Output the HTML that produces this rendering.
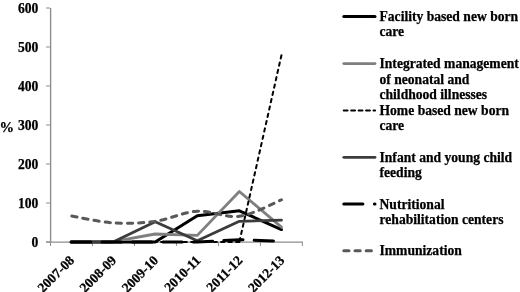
<!DOCTYPE html>
<html><head><meta charset="utf-8"><style>
html,body{margin:0;padding:0;background:#fff;}
svg{display:block;will-change:transform;}
text{font-family:"Liberation Serif",serif;font-weight:bold;font-size:13.6px;fill:#000;stroke:#000;stroke-width:0.25px;}
</style></head><body>
<svg width="520" height="292" viewBox="0 0 520 292">
<rect width="520" height="292" fill="#fff"/>
<line x1="50.6" y1="8" x2="50.6" y2="242.0" stroke="#8e8e8e" stroke-width="1.4"/>
<line x1="46" y1="242.0" x2="302.9" y2="242.0" stroke="#8e8e8e" stroke-width="1.25"/>
<line x1="46" y1="242.00" x2="50.0" y2="242.00" stroke="#8e8e8e" stroke-width="1"/>
<line x1="46" y1="203.00" x2="50.0" y2="203.00" stroke="#8e8e8e" stroke-width="1"/>
<line x1="46" y1="164.00" x2="50.0" y2="164.00" stroke="#8e8e8e" stroke-width="1"/>
<line x1="46" y1="125.00" x2="50.0" y2="125.00" stroke="#8e8e8e" stroke-width="1"/>
<line x1="46" y1="86.00" x2="50.0" y2="86.00" stroke="#8e8e8e" stroke-width="1"/>
<line x1="46" y1="47.00" x2="50.0" y2="47.00" stroke="#8e8e8e" stroke-width="1"/>
<line x1="46" y1="8.00" x2="50.0" y2="8.00" stroke="#8e8e8e" stroke-width="1"/>
<line x1="50.50" y1="242.0" x2="50.50" y2="246" stroke="#8e8e8e" stroke-width="1"/>
<line x1="92.48" y1="242.0" x2="92.48" y2="246" stroke="#8e8e8e" stroke-width="1"/>
<line x1="134.46" y1="242.0" x2="134.46" y2="246" stroke="#8e8e8e" stroke-width="1"/>
<line x1="176.44" y1="242.0" x2="176.44" y2="246" stroke="#8e8e8e" stroke-width="1"/>
<line x1="218.42" y1="242.0" x2="218.42" y2="246" stroke="#8e8e8e" stroke-width="1"/>
<line x1="260.40" y1="242.0" x2="260.40" y2="246" stroke="#8e8e8e" stroke-width="1"/>
<line x1="302.38" y1="242.0" x2="302.38" y2="246" stroke="#8e8e8e" stroke-width="1"/>
<path d="M71.04,242.00 L113.12,242.00 L155.20,242.00 L197.28,215.68 L239.36,210.80 L281.44,229.52" fill="none" stroke="#000" stroke-width="3.0" stroke-linecap="round" stroke-linejoin="round"/>
<path d="M71.04,242.00 L113.12,241.61 L155.20,234.00 L197.28,235.37 L239.36,191.50 L281.44,227.18" fill="none" stroke="#7f7f7f" stroke-width="2.8" stroke-linecap="round" stroke-linejoin="round"/>
<path d="M71.04,242.00 L239.36,242.00" fill="none" stroke="#000" stroke-width="2.0" stroke-linecap="round" stroke-dasharray="3.3 4.2"/>
<path d="M281.44,55.19 L239.36,242.00" fill="none" stroke="#000" stroke-width="2.0" stroke-linecap="round" stroke-linejoin="round" stroke-dasharray="3.3 4.2" stroke-dashoffset="0"/>
<path d="M71.04,242.00 L113.12,242.00 L155.20,221.72 L197.28,240.83 L239.36,221.33 L281.44,220.16" fill="none" stroke="#3c3c3c" stroke-width="2.8" stroke-linecap="round" stroke-linejoin="round"/>
<path d="M71.04,242.00 L113.12,242.00 L155.20,242.00 L197.28,242.00 L239.36,239.66 L281.44,241.22" fill="none" stroke="#000" stroke-width="3.0" stroke-linecap="round" stroke-linejoin="round" stroke-dasharray="19.3 11.15" stroke-dashoffset="-0.5"/>
<path d="M71.04,215.87 C78.05,217.04 99.09,221.98 113.12,222.89 C127.15,223.80 141.17,223.28 155.20,221.33 C169.23,219.38 183.25,212.03 197.28,211.19 C211.31,210.34 225.33,218.14 239.36,216.26 C253.39,214.38 274.43,202.61 281.44,199.88" fill="none" stroke="#595959" stroke-width="3.0" stroke-linecap="round" stroke-linejoin="round" stroke-dasharray="5.2 6" stroke-dashoffset="-1"/>
<text x="38.3" y="247" text-anchor="end">0</text>
<text x="38.3" y="208" text-anchor="end">100</text>
<text x="38.3" y="169" text-anchor="end">200</text>
<text x="38.3" y="130" text-anchor="end">300</text>
<text x="38.3" y="91" text-anchor="end">400</text>
<text x="38.3" y="52" text-anchor="end">500</text>
<text x="38.3" y="13" text-anchor="end">600</text>
<text x="-0.5" y="132" style="font-size:14.6px">%</text>
<text x="75.04" y="261.2" text-anchor="end" transform="rotate(-45 75.04 261.2)">2007-08</text>
<text x="117.12" y="261.2" text-anchor="end" transform="rotate(-45 117.12 261.2)">2008-09</text>
<text x="159.20" y="261.2" text-anchor="end" transform="rotate(-45 159.20 261.2)">2009-10</text>
<text x="201.28" y="261.2" text-anchor="end" transform="rotate(-45 201.28 261.2)">2010-11</text>
<text x="243.36" y="261.2" text-anchor="end" transform="rotate(-45 243.36 261.2)">2011-12</text>
<text x="285.44" y="261.2" text-anchor="end" transform="rotate(-45 285.44 261.2)">2012-13</text>
<line x1="343.8" y1="16.5" x2="375" y2="16.5" stroke="#000" stroke-width="3.0" stroke-linecap="round"/>
<text x="379.5" y="20.60">Facility based new born</text>
<text x="379.5" y="36.30">care</text>
<line x1="343.8" y1="63.6" x2="375" y2="63.6" stroke="#7f7f7f" stroke-width="2.8" stroke-linecap="round"/>
<text x="379.5" y="67.80">Integrated management</text>
<text x="379.5" y="83.50">of neonatal and</text>
<text x="379.5" y="99.20">childhood illnesses</text>
<line x1="343.8" y1="110.5" x2="375" y2="110.5" stroke="#000" stroke-width="2.2" stroke-linecap="round" stroke-dasharray="3.7 3.75"/>
<text x="379.5" y="114.60">Home based new born</text>
<text x="379.5" y="130.30">care</text>
<line x1="343.8" y1="157.3" x2="375" y2="157.3" stroke="#3c3c3c" stroke-width="2.8" stroke-linecap="round"/>
<text x="379.5" y="161.70">Infant and young child</text>
<text x="379.5" y="177.40">feeding</text>
<line x1="343.8" y1="204.0" x2="375" y2="204.0" stroke="#000" stroke-width="3.0" stroke-linecap="round" stroke-dasharray="19.1 11.5"/>
<text x="379.5" y="208.50">Nutritional</text>
<text x="379.5" y="224.20">rehabilitation centers</text>
<line x1="343.8" y1="250.8" x2="375" y2="250.8" stroke="#595959" stroke-width="3.0" stroke-linecap="round" stroke-dasharray="5.2 6"/>
<text x="379.5" y="254.90">Immunization</text>
</svg>
</body></html>
